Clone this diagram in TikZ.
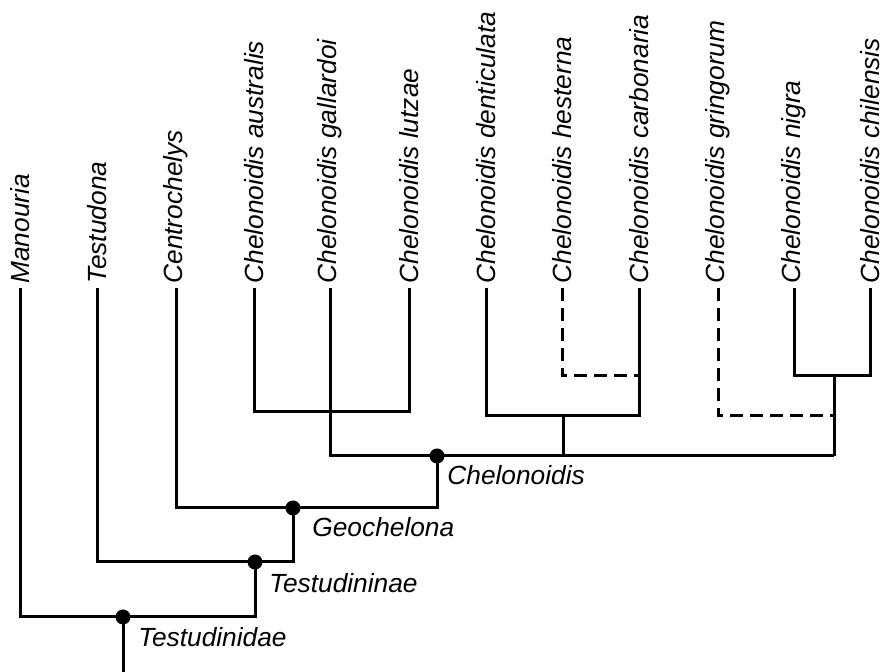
\documentclass[tikz,border=0pt]{standalone}
\usepackage{fontspec}
\setmainfont{Liberation Sans}
\usetikzlibrary{positioning}
\tikzset{
  branch/.style = {line width=1.5pt},
  ghost/.style  = {branch, dash pattern=on 6.5pt off 3.5pt},
  taxon/.style  = {rotate=90, anchor=west, inner sep=2pt,
                   font=\fontsize{13.15}{15}\selectfont\itshape},
  clade/.style  = {anchor=base west, inner sep=0pt,
                   font=\fontsize{13.15}{15}\selectfont\itshape},
  dot/.style    = {circle, fill=black, inner sep=0pt, minimum size=7.5pt},
}

\begin{document}
\begin{tikzpicture}[x=0.5pt, y=-0.5pt]

%% frame of the figure (pixel grid, y down)
\useasboundingbox (0,0) rectangle (884,672);

%% --- tips --------------------------------------------------------
\coordinate (tMan) at (20,288);
\coordinate (tTes) at (97,288);
\coordinate (tCen) at (176,288);
\coordinate (tAus) at (254,288);
\coordinate (tGal) at (330,288);
\coordinate (tLut) at (409,288);
\coordinate (tDen) at (486,288);
\coordinate (tHes) at (562,288);
\coordinate (tCar) at (639,288);
\coordinate (tGri) at (718,288);
\coordinate (tNig) at (794,288);
\coordinate (tChi) at (870,288);

\node[taxon] (lMan) at (tMan) {Manouria};
\node[taxon] (lTes) at (tTes) {Testudona};
\node[taxon] (lCen) at (tCen) {Centrochelys};
\node[taxon] (lAus) at (tAus) {Chelonoidis australis};
\node[taxon] (lGal) at (tGal) {Chelonoidis gallardoi};
\node[taxon] (lLut) at (tLut) {Chelonoidis lutzae};
\node[taxon] (lDen) at (tDen) {Chelonoidis denticulata};
\node[taxon] (lHes) at (tHes) {Chelonoidis hesterna};
\node[taxon] (lCar) at (tCar) {Chelonoidis carbonaria};
\node[taxon] (lGri) at (tGri) {Chelonoidis gringorum};
\node[taxon] (lNig) at (tNig) {Chelonoidis nigra};
\node[taxon] (lChi) at (tChi) {Chelonoidis chilensis};

%% --- inner joins -------------------------------------------------
\coordinate (nAL)  at (330,412);
\coordinate (nHC)  at (639,376);
\coordinate (nDC)  at (563,416);
\coordinate (nNC)  at (834,376);
\coordinate (nGN)  at (834,416);
\coordinate (jGal) at (330,456);
\coordinate (jDC)  at (563,456);
\coordinate (jNC)  at (834,456);
\coordinate (root) at (123,672);

\node[dot] (nChe) at (437,456) {};
\node[dot] (nGeo) at (293,508) {};
\node[dot] (nTsn) at (255,562) {};
\node[dot] (nTdd) at (123,617) {};

%% --- branches ----------------------------------------------------
\draw[branch] (tAus) |- (nAL) -| (tLut);
\draw[branch] (tGal) -- (jGal) -- (jNC);
\draw[branch] (tDen) |- (nDC) -| (tCar);
\draw[branch] (nDC) -- (jDC);
\draw[ghost]  (tHes) |- (nHC);
\draw[branch] (tNig) |- (nNC) -| (tChi);
\draw[branch] (nNC) -- (jNC);
\draw[ghost]  (tGri) |- (nGN);

\draw[branch] (tCen) |- (nGeo.center) -| (nChe.center);
\draw[branch] (tTes) |- (nTsn.center) -| (nGeo.center);
\draw[branch] (tMan) |- (nTdd.center) -| (nTsn.center);
\draw[branch] (nTdd.center) -- (root);

%% --- clade names -------------------------------------------------
\node[clade] (cChe) at (447,485) {Chelonoidis};
\node[clade] (cGeo) at (312,537) {Geochelona};
\node[clade] (cTsn) at (269,593) {Testudininae};
\node[clade] (cTdd) at (138,647) {Testudinidae};

\end{tikzpicture}
\end{document}
